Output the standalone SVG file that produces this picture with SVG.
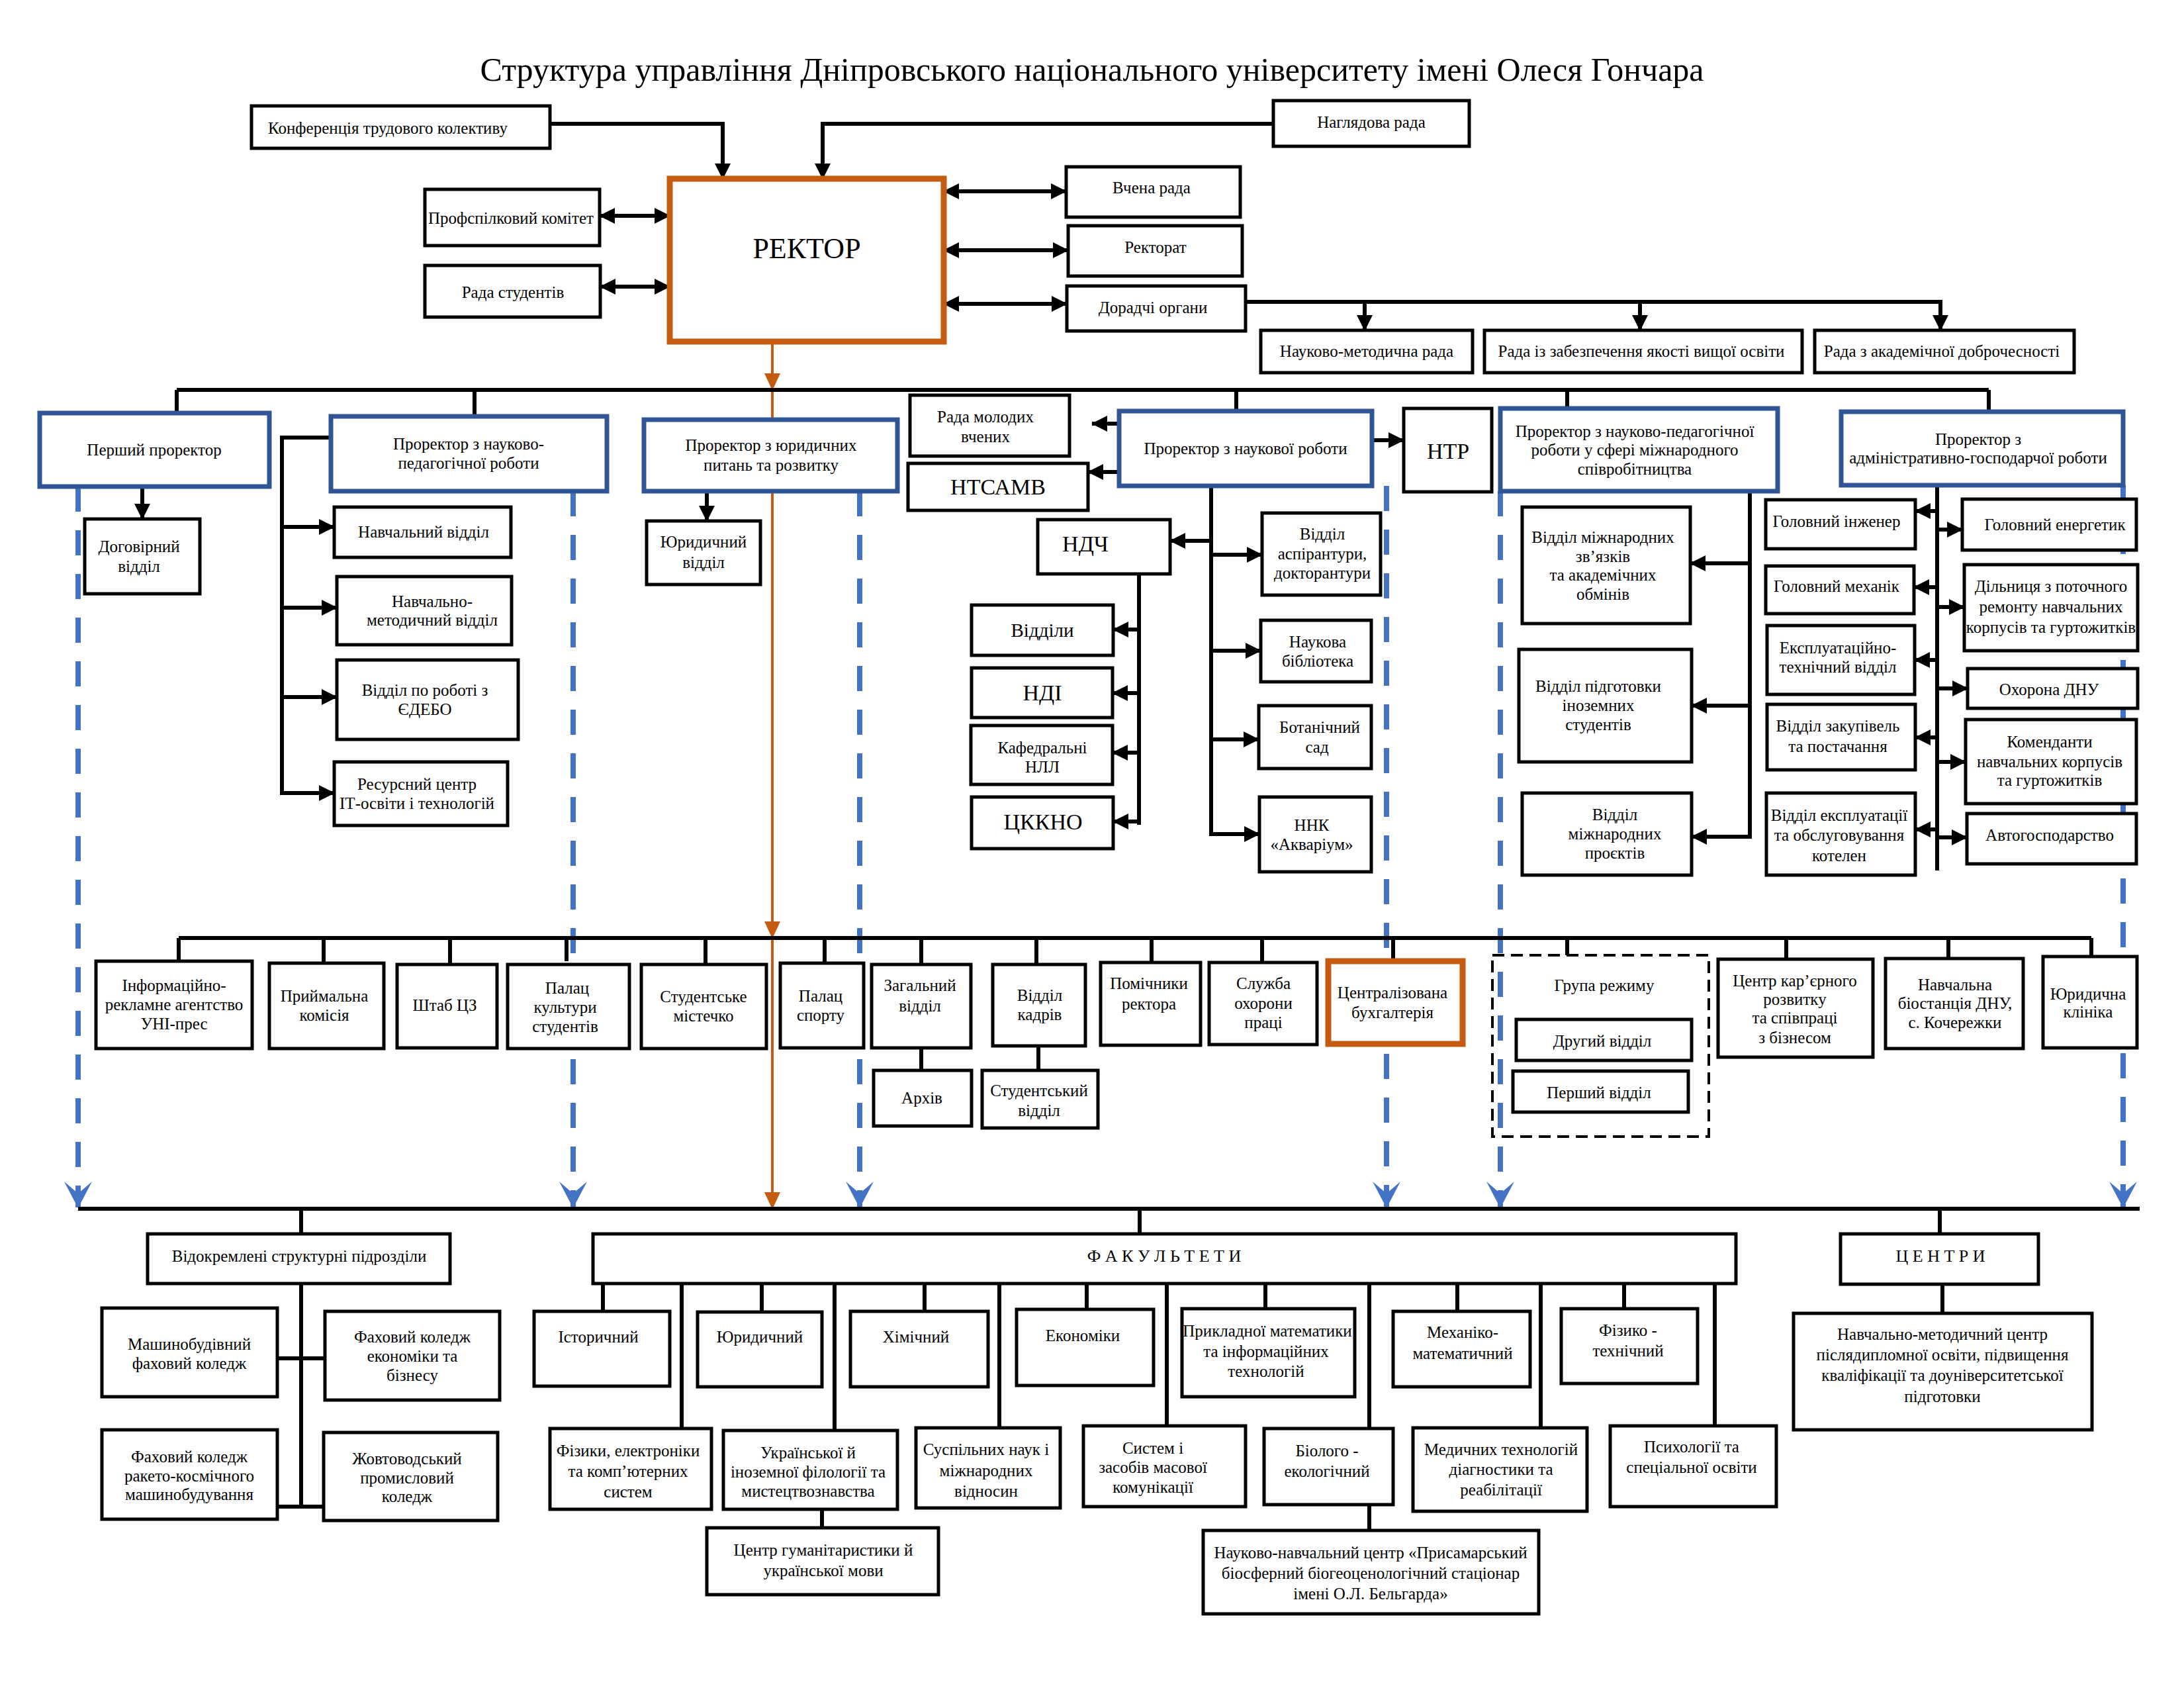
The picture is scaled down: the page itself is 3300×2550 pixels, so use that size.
<svg xmlns="http://www.w3.org/2000/svg" width="3300" height="2550" viewBox="0 0 3300 2550">
<style>
.b{fill:#fff;stroke:#000;stroke-width:5}
.bl{fill:#fff;stroke:#2F5597;stroke-width:7}
.or{fill:#fff;stroke:#C55A11;stroke-width:9}
.gd{fill:none;stroke:#000;stroke-width:4;stroke-dasharray:18 10}
text{font-family:"Liberation Serif","Times New Roman",serif;font-size:25px;text-anchor:middle;fill:#000}
.big{font-size:34px}
.ln{stroke:#000;stroke-width:6;fill:none}
.la{stroke:#000;stroke-width:6;fill:none;marker-end:url(#ah)}
.ld{stroke:#000;stroke-width:6;fill:none;marker-end:url(#ah);marker-start:url(#ah)}
.dsh{stroke:#4472C4;stroke-width:8;stroke-dasharray:38 28;fill:none;marker-end:url(#ahb)}
.orl{stroke:#C55A11;stroke-width:4;fill:none}
.ora{stroke:#C55A11;stroke-width:4;fill:none;marker-end:url(#aho)}
</style>
<defs>
<marker id="ah" viewBox="0 0 24 24" markerWidth="24" markerHeight="24" refX="23" refY="12" orient="auto-start-reverse" markerUnits="userSpaceOnUse"><path d="M0,0 L24,12 L0,24 Z" fill="#000"/></marker>
<marker id="aho" viewBox="0 0 26 24" markerWidth="26" markerHeight="24" refX="25" refY="12" orient="auto" markerUnits="userSpaceOnUse"><path d="M0,0 L26,12 L0,24 Z" fill="#C55A11"/></marker>
<marker id="ahb" viewBox="0 0 40 42" markerWidth="40" markerHeight="42" refX="39" refY="21" orient="auto" markerUnits="userSpaceOnUse"><path d="M0,0 L40,21 L0,42 L18,21 Z" fill="#4472C4"/></marker>
</defs>
<rect x="0" y="0" width="3300" height="2550" fill="#fff"/>
<text x="1650" y="122" style="font-size:50px">Структура управління Дніпровського національного університету імені Олеся Гончара</text>

<g id="connectors">
<path class="dsh" d="M118,735 V1824"/>
<path class="dsh" d="M866,742 V1824"/>
<path class="dsh" d="M1299,742 V1824"/>
<path class="dsh" d="M2095,734 V1824"/>
<path class="dsh" d="M2267,742 V1824"/>
<path class="dsh" d="M3208,733 V1824"/>
<path class="la" d="M830,187 H1092 V270"/>
<path class="la" d="M1924,187 H1243 V270"/>
<path class="ld" d="M906,326 H1012"/>
<path class="ld" d="M907,433 H1012"/>
<path class="ld" d="M1426,289 H1611"/>
<path class="ld" d="M1426,378 H1614"/>
<path class="ld" d="M1426,459 H1612"/>
<path class="la" d="M1882,456 H2932 V499"/>
<path class="la" d="M2062,456 V499"/>
<path class="la" d="M2478,456 V499"/>
<path class="ora" d="M1167,516 V589"/>
<path class="orl" d="M1167,589 V634"/>
<path class="ora" d="M1167,742 V1417"/>
<path class="ora" d="M1167,1417 V1826"/>
<path class="ln" d="M267,589 H3005"/>
<path class="ln" d="M267,589 V624 M717,589 V629 M1868,589 V621 M2368,589 V617 M3005,589 V622"/>
<path class="la" d="M215,735 V784"/>
<path class="la" d="M500,661 H426 V1198 H505"/>
<path class="la" d="M426,796 H505"/>
<path class="la" d="M426,918 H509"/>
<path class="la" d="M426,1053 H509"/>
<path class="la" d="M1068,742 V787"/>
<path class="la" d="M1691,640 H1650"/>
<path class="la" d="M1691,713 H1644"/>
<path class="la" d="M2073,665 H2121"/>
<path class="la" d="M1830,734 V1260 H1903"/>
<path class="la" d="M1830,817 H1768"/>
<path class="la" d="M1830,838 H1907"/>
<path class="la" d="M1830,983 H1905"/>
<path class="la" d="M1830,1117 H1902"/>
<path class="ln" d="M1721,867 V1246"/>
<path class="la" d="M1721,951 H1682"/>
<path class="la" d="M1721,1047 H1681"/>
<path class="la" d="M1721,1137 H1681"/>
<path class="la" d="M1721,1241 H1682"/>
<path class="la" d="M2644,742 V1264 H2556"/>
<path class="la" d="M2644,851 H2554"/>
<path class="la" d="M2644,1066 H2556"/>
<path class="ln" d="M2927,733 V1315"/>
<path class="la" d="M2927,772 H2894"/>
<path class="la" d="M2927,887 H2892"/>
<path class="la" d="M2927,997 H2893"/>
<path class="la" d="M2927,1114 H2894"/>
<path class="la" d="M2927,1253 H2894"/>
<path class="la" d="M2927,800 H2965"/>
<path class="la" d="M2927,917 H2968"/>
<path class="la" d="M2927,1040 H2973"/>
<path class="la" d="M2927,1151 H2970"/>
<path class="la" d="M2927,1265 H2972"/>
<path class="ln" d="M270,1417 H3160"/>
<path class="ln" d="M270,1417 V1452 M489,1417 V1455 M680,1417 V1457 M856,1417 V1452 M1066,1417 V1457 M1246,1417 V1455 M1392,1417 V1457 M1566,1417 V1457 M1740,1417 V1454 M1907,1417 V1454 M2105,1417 V1452 M2368,1417 V1443 M2699,1417 V1449 M2944,1417 V1448 M3160,1417 V1445"/>
<path class="ln" d="M1392,1583 V1617 M1569,1580 V1617"/>
<path class="ln" d="M118,1826 H3233"/>
<path class="ln" d="M455,1826 V1864 M1722,1826 V1864 M2931,1826 V1864"/>
<path class="ln" d="M455,1939 V2276 M419,2052 H491 M419,2276 H489"/>
<path class="ln" d="M911,1939 V1981 M1151,1939 V1982 M1397,1939 V1981 M1642,1939 V1978 M1912,1939 V1977 M2202,1939 V1981 M2454,1939 V1977"/>
<path class="ln" d="M1030,1939 V2158 M1261,1939 V2161 M1510,1939 V2157 M1763,1939 V2154 M2069,1939 V2158 M2328,1939 V2157 M2591,1939 V2154"/>
<path class="ln" d="M1242,2280 V2308 M2069,2273 V2312 M2935,1940 V1984"/>
</g>

<g id="n_konf"><rect class="b" x="380" y="160" width="451" height="64"/><text x="586" y="202">Конференція трудового колективу</text></g>
<g id="n_nag"><rect class="b" x="1924" y="152" width="296" height="69"/><text x="2072" y="193">Наглядова рада</text></g>
<g id="n_prof"><rect class="b" x="642" y="286" width="264" height="85"/><text x="772" y="338">Профспілковий комітет</text></g>
<g id="n_radast"><rect class="b" x="642" y="401" width="265" height="78"/><text x="775" y="450">Рада студентів</text></g>
<g id="n_rector"><rect class="or" x="1012" y="270" width="414" height="246"/><text x="1219" y="390" style="font-size:44px">РЕКТОР</text></g>
<g id="n_vchena"><rect class="b" x="1611" y="252" width="263" height="76"/><text x="1740" y="292">Вчена рада</text></g>
<g id="n_rektorat"><rect class="b" x="1614" y="341" width="263" height="76"/><text x="1746" y="382">Ректорат</text></g>
<g id="n_doradchi"><rect class="b" x="1612" y="432" width="270" height="68"/><text x="1742" y="473">Дорадчі органи</text></g>
<g id="n_nmr"><rect class="b" x="1905" y="499" width="320" height="64"/><text x="2065" y="539">Науково-методична рада</text></g>
<g id="n_yakist"><rect class="b" x="2243" y="499" width="480" height="64"/><text x="2480" y="539">Рада із забезпечення якості вищої освіти</text></g>
<g id="n_dobro"><rect class="b" x="2742" y="499" width="392" height="64"/><text x="2934" y="539">Рада з академічної доброчесності</text></g>

<g id="n_pershyi"><rect class="bl" x="60" y="624" width="347" height="111"/><text x="233" y="688">Перший проректор</text></g>
<g id="n_dogovir"><rect class="b" x="128" y="784" width="174" height="113"/><text x="210"><tspan x="210" y="834">Договірний</tspan><tspan x="210" y="864">відділ</tspan></text></g>
<g id="n_npr"><rect class="bl" x="500" y="629" width="417" height="113"/><text><tspan x="708" y="679">Проректор з науково-</tspan><tspan x="708" y="708">педагогічної роботи</tspan></text></g>
<g id="n_navch"><rect class="b" x="505" y="766" width="267" height="76"/><text x="640" y="812">Навчальний відділ</text></g>
<g id="n_nmv"><rect class="b" x="509" y="871" width="264" height="103"/><text><tspan x="653" y="917">Навчально-</tspan><tspan x="653" y="945">методичний  відділ</tspan></text></g>
<g id="n_edebo"><rect class="b" x="509" y="997" width="274" height="120"/><text><tspan x="642" y="1051">Відділ по роботі з</tspan><tspan x="642" y="1080">ЄДЕБО</tspan></text></g>
<g id="n_resurs"><rect class="b" x="505" y="1151" width="262" height="96"/><text><tspan x="630" y="1193">Ресурсний центр</tspan><tspan x="630" y="1222">ІТ-освіти і технологій</tspan></text></g>
<g id="n_yurpr"><rect class="bl" x="973" y="634" width="383" height="108"/><text><tspan x="1165" y="681">Проректор з юридичних</tspan><tspan x="1165" y="711">питань та розвитку</tspan></text></g>
<g id="n_yurvid"><rect class="b" x="977" y="787" width="172" height="96"/><text><tspan x="1063" y="827">Юридичний</tspan><tspan x="1063" y="858">відділ</tspan></text></g>
<g id="n_rmv"><rect class="b" x="1375" y="597" width="241" height="92"/><text><tspan x="1489" y="638">Рада молодих</tspan><tspan x="1489" y="668">вчених</tspan></text></g>
<g id="n_ntsamv"><rect class="b" x="1372" y="700" width="272" height="71"/><text class="big" x="1508" y="747">НТСАМВ</text></g>
<g id="n_nauk"><rect class="bl" x="1691" y="621" width="382" height="113"/><text x="1882" y="686">Проректор з наукової роботи</text></g>
<g id="n_ntr"><rect class="b" x="2121" y="617" width="133" height="126"/><text class="big" x="2188" y="693">НТР</text></g>
<g id="n_ndch"><rect class="b" x="1568" y="785" width="200" height="82"/><text class="big" x="1640" y="833">НДЧ</text></g>
<g id="n_asp"><rect class="b" x="1907" y="775" width="179" height="124"/><text><tspan x="1998" y="815">Відділ</tspan><tspan x="1998" y="845">аспірантури,</tspan><tspan x="1998" y="874">докторантури</tspan></text></g>
<g id="n_bibl"><rect class="b" x="1905" y="937" width="167" height="93"/><text><tspan x="1991" y="978">Наукова</tspan><tspan x="1991" y="1007">бібліотека</tspan></text></g>
<g id="n_bot"><rect class="b" x="1902" y="1066" width="170" height="95"/><text><tspan x="1994" y="1107">Ботанічний</tspan><tspan x="1990" y="1137">сад</tspan></text></g>
<g id="n_aqua"><rect class="b" x="1903" y="1204" width="169" height="113"/><text><tspan x="1982" y="1255">ННК</tspan><tspan x="1982" y="1284">«Акваріум»</tspan></text></g>
<g id="n_viddily"><rect class="b" x="1468" y="914" width="214" height="76"/><text x="1575" y="962" style="font-size:29px">Відділи</text></g>
<g id="n_ndi"><rect class="b" x="1468" y="1009" width="213" height="75"/><text class="big" x="1575" y="1058">НДІ</text></g>
<g id="n_kaf"><rect class="b" x="1467" y="1096" width="214" height="89"/><text><tspan x="1575" y="1138">Кафедральні</tspan><tspan x="1575" y="1167">НЛЛ</tspan></text></g>
<g id="n_tskkno"><rect class="b" x="1468" y="1204" width="214" height="78"/><text class="big" x="1576" y="1253">ЦККНО</text></g>

<g id="n_mizhpr"><rect class="bl" x="2267" y="617" width="419" height="125"/><text><tspan x="2470" y="660">Проректор з науково-педагогічної</tspan><tspan x="2470" y="688">роботи у сфері міжнародного</tspan><tspan x="2470" y="717">співробітництва</tspan></text></g>
<g id="n_mzv"><rect class="b" x="2300" y="766" width="254" height="176"/><text><tspan x="2422" y="820">Відділ міжнародних</tspan><tspan x="2422" y="849">зв’язків</tspan><tspan x="2422" y="877">та академічних</tspan><tspan x="2422" y="906">обмінів</tspan></text></g>
<g id="n_inoz"><rect class="b" x="2295" y="981" width="261" height="170"/><text><tspan x="2415" y="1045">Відділ підготовки</tspan><tspan x="2415" y="1074">іноземних</tspan><tspan x="2415" y="1103">студентів</tspan></text></g>
<g id="n_proekt"><rect class="b" x="2300" y="1198" width="256" height="124"/><text><tspan x="2440" y="1239">Відділ</tspan><tspan x="2440" y="1268">міжнародних</tspan><tspan x="2440" y="1297">проєктів</tspan></text></g>
<g id="n_admin"><rect class="bl" x="2782" y="622" width="426" height="111"/><text><tspan x="2989" y="672">Проректор з</tspan><tspan x="2989" y="700">адміністративно-господарчої роботи</tspan></text></g>
<g id="n_ingh"><rect class="b" x="2668" y="755" width="226" height="74"/><text x="2775" y="796">Головний інженер</text></g>
<g id="n_mekh"><rect class="b" x="2668" y="855" width="224" height="72"/><text x="2775" y="894">Головний механік</text></g>
<g id="n_ekspl"><rect class="b" x="2670" y="945" width="223" height="104"/><text><tspan x="2777" y="987">Експлуатаційно-</tspan><tspan x="2777" y="1016">технічний відділ</tspan></text></g>
<g id="n_zakup"><rect class="b" x="2670" y="1064" width="224" height="99"/><text><tspan x="2777" y="1105">Відділ закупівель</tspan><tspan x="2777" y="1136">та постачання</tspan></text></g>
<g id="n_kotel"><rect class="b" x="2669" y="1198" width="225" height="124"/><text><tspan x="2779" y="1240">Відділ експлуатації</tspan><tspan x="2779" y="1270">та обслуговування</tspan><tspan x="2779" y="1301">котелен</tspan></text></g>
<g id="n_energ"><rect class="b" x="2965" y="754" width="263" height="77"/><text x="3105" y="801">Головний енергетик</text></g>
<g id="n_dilnytsia"><rect class="b" x="2968" y="853" width="262" height="130"/><text><tspan x="3099" y="894">Дільниця з поточного</tspan><tspan x="3099" y="925">ремонту навчальних</tspan><tspan x="3099" y="956">корпусів та гуртожитків</tspan></text></g>
<g id="n_okhorona"><rect class="b" x="2973" y="1010" width="257" height="60"/><text x="3096" y="1050">Охорона ДНУ</text></g>
<g id="n_koment"><rect class="b" x="2970" y="1087" width="258" height="127"/><text><tspan x="3097" y="1129">Коменданти</tspan><tspan x="3097" y="1159">навчальних корпусів</tspan><tspan x="3097" y="1187">та гуртожитків</tspan></text></g>
<g id="n_avto"><rect class="b" x="2972" y="1229" width="256" height="76"/><text x="3097" y="1270">Автогосподарство</text></g>

<g id="n_info"><rect class="b" x="145" y="1452" width="236" height="132"/><text><tspan x="263" y="1497">Інформаційно-</tspan><tspan x="263" y="1526">рекламне агентство</tspan><tspan x="263" y="1555">УНІ-прес</tspan></text></g>
<g id="n_pryim"><rect class="b" x="407" y="1455" width="173" height="129"/><text><tspan x="490" y="1513">Приймальна</tspan><tspan x="490" y="1542">комісія</tspan></text></g>
<g id="n_shtab"><rect class="b" x="600" y="1457" width="151" height="126"/><text x="672" y="1527">Штаб ЦЗ</text></g>
<g id="n_palack"><rect class="b" x="767" y="1457" width="184" height="127"/><text><tspan x="857" y="1501">Палац</tspan><tspan x="854" y="1530">культури</tspan><tspan x="854" y="1559">студентів</tspan></text></g>
<g id="n_studm"><rect class="b" x="969" y="1457" width="189" height="127"/><text><tspan x="1063" y="1514">Студентське</tspan><tspan x="1063" y="1543">містечко</tspan></text></g>
<g id="n_palacs"><rect class="b" x="1179" y="1455" width="126" height="128"/><text><tspan x="1240" y="1513">Палац</tspan><tspan x="1240" y="1542">спорту</tspan></text></g>
<g id="n_zag"><rect class="b" x="1317" y="1457" width="150" height="126"/><text><tspan x="1390" y="1497">Загальний</tspan><tspan x="1390" y="1528">відділ</tspan></text></g>
<g id="n_kadry"><rect class="b" x="1500" y="1457" width="140" height="123"/><text><tspan x="1571" y="1512">Відділ</tspan><tspan x="1571" y="1541">кадрів</tspan></text></g>
<g id="n_pomich"><rect class="b" x="1663" y="1454" width="151" height="125"/><text><tspan x="1736" y="1494">Помічники</tspan><tspan x="1736" y="1525">ректора</tspan></text></g>
<g id="n_okhpr"><rect class="b" x="1827" y="1454" width="163" height="124"/><text><tspan x="1909" y="1494">Служба</tspan><tspan x="1909" y="1524">охорони</tspan><tspan x="1909" y="1553">праці</tspan></text></g>
<g id="n_buh"><rect class="or" x="2007" y="1452" width="203" height="125"/><text><tspan x="2104" y="1508">Централізована</tspan><tspan x="2104" y="1538">бухгалтерія</tspan></text></g>
<g id="n_arkh"><rect class="b" x="1320" y="1617" width="148" height="84"/><text x="1393" y="1667">Архів</text></g>
<g id="n_studvid"><rect class="b" x="1484" y="1617" width="175" height="87"/><text><tspan x="1570" y="1656">Студентський</tspan><tspan x="1570" y="1686">відділ</tspan></text></g>
<g id="n_rezhym"><rect class="gd" x="2255" y="1443" width="327" height="274"/><text x="2424" y="1497">Група режиму</text></g>
<g id="n_druhyi"><rect class="b" x="2291" y="1540" width="265" height="62"/><text x="2421" y="1581">Другий відділ</text></g>
<g id="n_pershvid"><rect class="b" x="2286" y="1618" width="265" height="62"/><text x="2416" y="1659">Перший відділ</text></g>
<g id="n_kariera"><rect class="b" x="2596" y="1449" width="234" height="148"/><text><tspan x="2712" y="1490">Центр кар’єрного</tspan><tspan x="2712" y="1518">розвитку</tspan><tspan x="2712" y="1546">та співпраці</tspan><tspan x="2712" y="1576">з бізнесом</tspan></text></g>
<g id="n_biost"><rect class="b" x="2849" y="1448" width="208" height="136"/><text><tspan x="2954" y="1496">Навчальна</tspan><tspan x="2954" y="1524">біостанція ДНУ,</tspan><tspan x="2954" y="1553">с. Кочережки</tspan></text></g>
<g id="n_klinika"><rect class="b" x="3087" y="1445" width="142" height="138"/><text><tspan x="3155" y="1510">Юридична</tspan><tspan x="3155" y="1537">клініка</tspan></text></g>

<g id="n_vsp"><rect class="b" x="223" y="1864" width="457" height="75"/><text x="452" y="1906">Відокремлені структурні підрозділи</text></g>
<g id="n_mash"><rect class="b" x="154" y="1976" width="265" height="134"/><text><tspan x="286" y="2039">Машинобудівний</tspan><tspan x="286" y="2068">фаховий коледж</tspan></text></g>
<g id="n_ekoncol"><rect class="b" x="491" y="1981" width="264" height="134"/><text><tspan x="623" y="2028">Фаховий коледж</tspan><tspan x="623" y="2057">економіки та</tspan><tspan x="623" y="2086">бізнесу</tspan></text></g>
<g id="n_raket"><rect class="b" x="154" y="2160" width="265" height="135"/><text><tspan x="286" y="2209">Фаховий коледж</tspan><tspan x="286" y="2238">ракето-космічного</tspan><tspan x="286" y="2266">машинобудування</tspan></text></g>
<g id="n_zhovt"><rect class="b" x="489" y="2164" width="263" height="133"/><text><tspan x="615" y="2212">Жовтоводський</tspan><tspan x="615" y="2241">промисловий</tspan><tspan x="615" y="2269">коледж</tspan></text></g>
<g id="n_fak"><rect class="b" x="896" y="1864" width="1727" height="75"/><text x="1759" y="1906" style="font-size:26px">Ф А К У Л Ь Т Е Т И</text></g>
<g id="n_ist"><rect class="b" x="807" y="1981" width="205" height="113"/><text x="904" y="2028">Історичний</text></g>
<g id="n_fizel"><rect class="b" x="831" y="2158" width="244" height="122"/><text><tspan x="949" y="2200">Фізики, електроніки</tspan><tspan x="949" y="2231">та комп’ютерних</tspan><tspan x="949" y="2262">систем</tspan></text></g>
<g id="n_yur"><rect class="b" x="1054" y="1982" width="188" height="113"/><text x="1148" y="2028">Юридичний</text></g>
<g id="n_ukr"><rect class="b" x="1093" y="2161" width="263" height="119"/><text><tspan x="1221" y="2203">Української й</tspan><tspan x="1221" y="2232">іноземної філології та</tspan><tspan x="1221" y="2261">мистецтвознавства</tspan></text></g>
<g id="n_khim"><rect class="b" x="1285" y="1981" width="208" height="114"/><text x="1384" y="2028">Хімічний</text></g>
<g id="n_susp"><rect class="b" x="1384" y="2157" width="218" height="121"/><text><tspan x="1490" y="2198">Суспільних наук і</tspan><tspan x="1490" y="2230">міжнародних</tspan><tspan x="1490" y="2261">відносин</tspan></text></g>
<g id="n_ekon"><rect class="b" x="1536" y="1978" width="207" height="115"/><text x="1636" y="2026">Економіки</text></g>
<g id="n_syst"><rect class="b" x="1637" y="2154" width="245" height="122"/><text><tspan x="1742" y="2196">Систем і</tspan><tspan x="1742" y="2225">засобів масової</tspan><tspan x="1742" y="2255">комунікації</tspan></text></g>
<g id="n_prykl"><rect class="b" x="1786" y="1977" width="261" height="133"/><text><tspan x="1915" y="2019">Прикладної математики</tspan><tspan x="1913" y="2050">та інформаційних</tspan><tspan x="1913" y="2080">технологій</tspan></text></g>
<g id="n_biol"><rect class="b" x="1910" y="2158" width="195" height="115"/><text><tspan x="2005" y="2200">Біолого -</tspan><tspan x="2005" y="2231">екологічний</tspan></text></g>
<g id="n_mekhm"><rect class="b" x="2105" y="1981" width="207" height="114"/><text><tspan x="2210" y="2021">Механіко-</tspan><tspan x="2210" y="2053">математичний</tspan></text></g>
<g id="n_med"><rect class="b" x="2135" y="2157" width="263" height="126"/><text><tspan x="2268" y="2198">Медичних технологій</tspan><tspan x="2268" y="2228">діагностики та</tspan><tspan x="2268" y="2259">реабілітації</tspan></text></g>
<g id="n_fizt"><rect class="b" x="2359" y="1977" width="206" height="113"/><text><tspan x="2460" y="2018">Фізико -</tspan><tspan x="2460" y="2049">технічний</tspan></text></g>
<g id="n_psykh"><rect class="b" x="2433" y="2154" width="251" height="122"/><text><tspan x="2556" y="2194">Психології та</tspan><tspan x="2556" y="2225">спеціальної освіти</tspan></text></g>
<g id="n_gum"><rect class="b" x="1068" y="2308" width="350" height="101"/><text><tspan x="1244" y="2350">Центр гуманітаристики й</tspan><tspan x="1244" y="2381">української мови</tspan></text></g>
<g id="n_prysam"><rect class="b" x="1818" y="2312" width="507" height="126"/><text><tspan x="2071" y="2354">Науково-навчальний центр «Присамарський</tspan><tspan x="2071" y="2385">біосферний біогеоценологічний стаціонар</tspan><tspan x="2071" y="2416">імені О.Л. Бельгарда»</tspan></text></g>
<g id="n_tsentry"><rect class="b" x="2781" y="1864" width="299" height="76"/><text x="2932" y="1906" style="font-size:26px">Ц Е Н Т Р И</text></g>
<g id="n_nmts"><rect class="b" x="2710" y="1984" width="451" height="176"/><text><tspan x="2935" y="2024">Навчально-методичний центр</tspan><tspan x="2935" y="2055">післядипломної освіти, підвищення</tspan><tspan x="2935" y="2086">кваліфікації та доуніверситетської</tspan><tspan x="2935" y="2118">підготовки</tspan></text></g>
</svg>
